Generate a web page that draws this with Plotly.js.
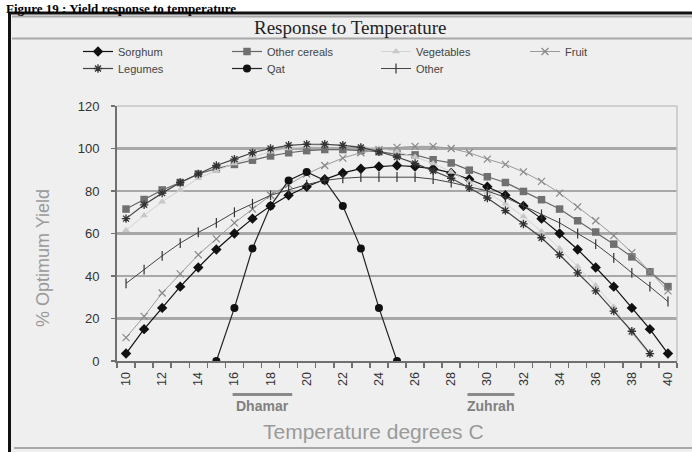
<!DOCTYPE html>
<html>
<head>
<meta charset="utf-8">
<script src="https://cdn.plot.ly/plotly-3.0.1.min.js"></script>
<style>html,body{margin:0;padding:0;background:#fff;}#chart{width:692px;height:452px;}</style>
</head>
<body>
<div id="chart"></div>
<script>
// ---- data ----
const temps = [10,11,12,13,14,15,16,17,18,19,20,21,22,23,24,25,26,27,28,29,30,31,32,33,34,35,36,37,38,39,40];
const sorghum = [3.5,15,25,35,44,52.5,60,67,73,78,82,85.5,88.5,90.5,91.5,92,91.5,90.5,88.5,85.5,82,78,73,67,60,52.5,44,35,25,15,3.5];
const otherCereals = [71.5,76,80.5,84,88,90.5,92.5,94.5,96.5,98,99,99.5,99.5,99,98.5,97.2,97,94.7,93.2,89.8,86.7,84,79.8,75.9,71.5,66,60.7,55,49,42,35];
const vegetables = [61.5,68.5,75,80.5,86,89.5,93,96,98.5,100,101,101.5,101.5,101,100,98.5,96,93,89,84.5,79.5,74,68,61,53,44.5,35.5,25.5,13,3,null];
const fruit = [11,21,32,41,50,57.5,65,71.5,78,83,88,92,95.5,98,99.5,100.5,101,101,100,98,95,92.5,89,84.5,79,72.5,66,59,51,42,33];
const legumes = [67,73.5,79,84,88,92,95,98,100,101.5,102,102,101.5,100.5,98.5,96,93,89.5,86,81.5,76.7,70.8,64.5,58,50,41.5,33,23.5,14,3.5,null];
const qat = [null,null,null,null,null,0,25,53,73,85,89,85,73,53,25,0,null,null,null,null,null,null,null,null,null,null,null,null,null,null,null];
const other = [36.5,43,49.5,55.5,60.5,65,70,74,78,80.5,83,85,86,86.5,86.6,86.6,86.5,85.6,84,82,80,77,73,69,65,60,55,48.5,41.5,35,28];
const seriesNames = ["Sorghum","Other cereals","Vegetables","Fruit","Legumes","Qat","Other"];
const xTickVals = [10,12,14,16,18,20,22,24,26,28,30,32,34,36,38,40];
const yTickVals = [0,20,40,60,80,100,120];
const regionNames = ["Dhamar","Zuhrah"];
const regionStart = [15.9,28.9];
const regionEnd = [19.2,31.5];

// ---- layout helpers (pixel -> paper) ----
const W = 692, H = 452, ML = 117, MR = 15, MT = 106, MB = 91;
const PW = W-ML-MR, PH = H-MT-MB;
const px = p => (p-ML)/PW;
const py = p => (H-MB-p)/PH;

const styles = [
  {mode:'lines+markers', line:{color:'#111',width:1.2}, marker:{symbol:'diamond',size:8,color:'#111'}},
  {mode:'lines+markers', line:{color:'#666',width:1.2}, marker:{symbol:'square',size:7.5,color:'#707070'}},
  {mode:'lines+markers', line:{color:'#d2d2d2',width:1}, marker:{symbol:'triangle-up',size:7,color:'#c8c8c8'}},
  {mode:'lines+markers', line:{color:'#9a9a9a',width:1}, marker:{symbol:'x-thin-open',size:7,color:'#888',line:{width:1.2,color:'#888'}}},
  {mode:'lines+markers', line:{color:'#444',width:1.2}, marker:{symbol:'asterisk-open',size:7,color:'#333',line:{width:1.3,color:'#333'}}},
  {mode:'lines+markers', line:{color:'#222',width:1.2}, marker:{symbol:'circle',size:8,color:'#111'}},
  {mode:'lines+markers', line:{color:'#444',width:1}, marker:{symbol:'line-ns-open',size:7,color:'#333',line:{width:1.2,color:'#333'}}}
];
const legendOf = ['legend','legend','legend','legend','legend2','legend2','legend2'];
const values = [sorghum, otherCereals, vegetables, fruit, legumes, qat, other];
const traces = values.map((v,i)=>Object.assign({type:'scatter', x:temps, y:v, name:seriesNames[i], connectgaps:false, legend:legendOf[i]}, styles[i]));

const shapes = [
  {type:'rect', xref:'paper', yref:'paper', x0:px(10), x1:px(700), y0:py(14), y1:py(460), fillcolor:'#efefef', line:{width:0}, layer:'below'},
  {type:'line', xref:'paper', yref:'paper', x0:px(9.5), x1:px(9.5), y0:py(12), y1:py(460), line:{color:'#111',width:3}},
  {type:'line', xref:'paper', yref:'paper', x0:px(8), x1:px(700), y0:py(13), y1:py(13), line:{color:'#111',width:3}},
  {type:'line', xref:'paper', yref:'paper', x0:px(12), x1:px(700), y0:py(16.5), y1:py(16.5), line:{color:'#a8a8a8',width:2}},
  {type:'line', xref:'paper', yref:'paper', x0:px(12), x1:px(700), y0:py(38.5), y1:py(38.5), line:{color:'#a8a8a8',width:2}},
  {type:'line', xref:'paper', yref:'paper', x0:px(14), x1:px(700), y0:py(448), y1:py(448), line:{color:'#a8a8a8',width:2}},
  {type:'line', xref:'paper', yref:'paper', x0:1, x1:1, y0:0, y1:1, line:{color:'#c4c4c4',width:1.5}},
  {type:'line', xref:'paper', yref:'paper', x0:0, x1:1, y0:1, y1:1, line:{color:'#c4c4c4',width:1.5}}
];
const annotations = [
  {text:'<b>Figure 19 : Yield response to temperature</b>', xref:'paper', yref:'paper', x:px(5), y:py(0), xanchor:'left', yanchor:'top', borderpad:0, showarrow:false, font:{family:'Liberation Serif, Times New Roman, serif', size:13, color:'#000'}},
  {text:'Response to Temperature', xref:'paper', yref:'paper', x:px(350), y:py(27), xanchor:'center', yanchor:'middle', showarrow:false, font:{family:'Liberation Serif, Times New Roman, serif', size:19, color:'#222'}},
  {text:'Temperature degrees C', xref:'paper', yref:'paper', x:px(373), y:py(431), xanchor:'center', yanchor:'middle', showarrow:false, font:{size:21, color:'#9a9a9a'}},
  {text:'% Optimum Yield', xref:'paper', yref:'paper', x:px(43), y:py(258), xanchor:'center', yanchor:'middle', textangle:-90, showarrow:false, font:{size:18, color:'#9a9a9a'}}
];
regionNames.forEach((n,i)=>{
  shapes.push({type:'line', xref:'x', yref:'paper', x0:regionStart[i], x1:regionEnd[i], y0:py(394.5), y1:py(394.5), line:{color:'#8a8a8a',width:3}});
  annotations.push({text:'<b>'+n+'</b>', xref:'x', yref:'paper', x:(regionStart[i]+regionEnd[i])/2, y:py(406), xanchor:'center', yanchor:'middle', showarrow:false, font:{family:'Liberation Sans, Arial, sans-serif', size:14, color:'#808080'}});
});

const legendBase = {orientation:'h', x:px(78), xanchor:'left', yanchor:'top', bgcolor:'rgba(0,0,0,0)', borderwidth:0,
          entrywidth:104, entrywidthmode:'pixels', font:{size:11, color:'#444'}, traceorder:'normal', itemwidth:30, tracegroupgap:0};

const layout = {
  width:W, height:H,
  margin:{l:ML, r:MR, t:MT, b:MB, pad:0},
  paper_bgcolor:'#ffffff', plot_bgcolor:'rgba(0,0,0,0)',
  font:{family:'Liberation Sans, Arial, sans-serif', size:12, color:'#333'},
  showlegend:true,
  legend:Object.assign({}, legendBase, {y:py(37)}),
  legend2:Object.assign({}, legendBase, {y:py(54)}),
  xaxis:{range:[9.5,40.5], tickmode:'array', tickvals:xTickVals, ticktext:xTickVals.map(String), tickangle:-90,
         ticks:'', showgrid:false, zeroline:false, showline:true, linecolor:'#707070', linewidth:2,
         tickfont:{size:12.5, color:'#333'}, ticklabelstandoff:4,
         minor:{tick0:9.5, dtick:1, ticks:'outside', ticklen:5, tickcolor:'#707070', tickwidth:1.5, showgrid:false}},
  yaxis:{range:[0,120], tickmode:'array', tickvals:yTickVals, ticks:'outside', ticklen:4, tickcolor:'#707070', tickwidth:1.5,
         showgrid:true, gridcolor:'#a8a8a8', gridwidth:2.5, zeroline:false, showline:true, linecolor:'#707070', linewidth:2,
         tickfont:{size:13, color:'#333'}, ticklabelstandoff:9},
  shapes:shapes, annotations:annotations
};
Plotly.newPlot('chart', traces, layout, {displayModeBar:false, staticPlot:true});
</script>
</body>
</html>
